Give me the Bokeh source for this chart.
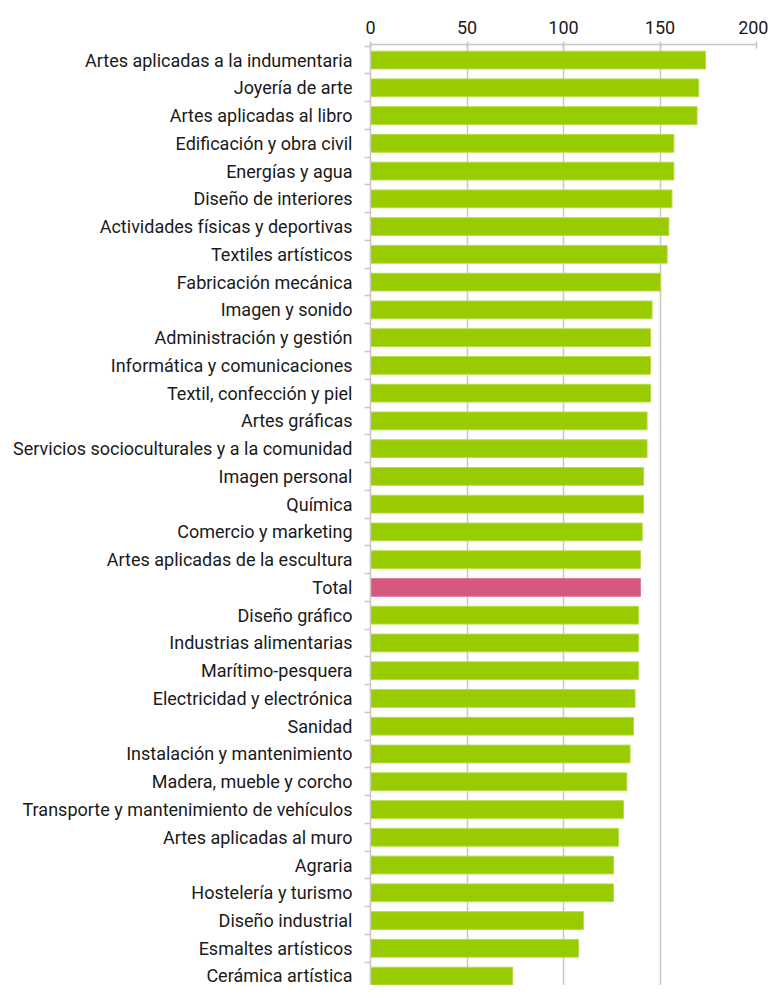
from bokeh.plotting import figure
from bokeh.models import ColumnDataSource, Range1d, FixedTicker
from bokeh.embed import file_html
from bokeh.resources import INLINE

categories = [
    "Artes aplicadas a la indumentaria",
    "Joyería de arte",
    "Artes aplicadas al libro",
    "Edificación y obra civil",
    "Energías y agua",
    "Diseño de interiores",
    "Actividades físicas y deportivas",
    "Textiles artísticos",
    "Fabricación mecánica",
    "Imagen y sonido",
    "Administración y gestión",
    "Informática y comunicaciones",
    "Textil, confección y piel",
    "Artes gráficas",
    "Servicios socioculturales y a la comunidad",
    "Imagen personal",
    "Química",
    "Comercio y marketing",
    "Artes aplicadas de la escultura",
    "Total",
    "Diseño gráfico",
    "Industrias alimentarias",
    "Marítimo-pesquera",
    "Electricidad y electrónica",
    "Sanidad",
    "Instalación y mantenimiento",
    "Madera, mueble y corcho",
    "Transporte y mantenimiento de vehículos",
    "Artes aplicadas al muro",
    "Agraria",
    "Hostelería y turismo",
    "Diseño industrial",
    "Esmaltes artísticos",
    "Cerámica artística",
]
values = [
    173.6, 170.1, 169.2, 157.2, 157.2, 156.2, 154.6, 153.7, 150.3,
    145.9, 145.1, 145.1, 145.1, 143.3, 143.3, 141.5, 141.5, 140.8,
    139.9, 139.9, 138.9, 138.9, 138.9, 137.1, 136.3, 134.5, 132.8,
    131.1, 128.5, 125.9, 125.9, 110.4, 107.8, 73.7,
]
x_ticks = [0, 50, 100, 150, 200]

GREEN = "#99cc00"
GREEN_EDGE = "#b5dc4a"
PINK = "#d5587e"
PINK_EDGE = "#dd7a98"
FONT = "Roboto"
GRID = "#c6c6c6"

n = len(categories)
ys = list(range(n))
colors = [PINK if c == "Total" else GREEN for c in categories]
edges = [PINK_EDGE if c == "Total" else GREEN_EDGE for c in categories]

src = ColumnDataSource(dict(y=ys, v=values, c=colors, e=edges, name=categories))

p = figure(
    width=768, height=985,
    output_backend="svg", toolbar_location=None,
    x_axis_location="above",
    x_range=Range1d(0, 200),
    y_range=Range1d(n - 1 + 0.34, -0.56),
    min_border_left=370, min_border_right=12,
    min_border_top=44, min_border_bottom=0,
)
p.outline_line_color = None
p.background_fill_color = "white"

p.hbar(y="y", left=0, right="v", height=0.64, source=src,
       fill_color="c", line_color="e", line_width=1)

# x axis (top)
xa = p.xaxis[0]
xa.ticker = FixedTicker(ticks=x_ticks)
xa.axis_line_color = GRID
xa.axis_line_width = 1.5
xa.major_tick_line_color = GRID
xa.major_tick_line_width = 1.5
xa.major_tick_in = 4
xa.major_tick_out = 3
xa.minor_tick_line_color = None
xa.major_label_text_font = FONT
xa.major_label_text_font_size = "18px"
xa.major_label_text_color = "#1a1a1a"
xa.major_label_standoff = 8

# y axis (left)
ya = p.yaxis[0]
ya.ticker = FixedTicker(ticks=ys, minor_ticks=[i - 0.5 for i in range(n + 1)])
ya.major_label_overrides = {i: c for i, c in enumerate(categories)}
ya.axis_line_color = GRID
ya.axis_line_width = 1.5
ya.major_tick_line_color = None
ya.minor_tick_line_color = GRID
ya.minor_tick_line_width = 1.5
ya.minor_tick_in = 0
ya.minor_tick_out = 6
ya.major_label_text_font = FONT
ya.major_label_text_font_size = "18px"
ya.major_label_text_color = "#1a1a1a"
ya.major_label_standoff = 12

p.xgrid.ticker = FixedTicker(ticks=x_ticks)
p.xgrid.grid_line_color = GRID
p.xgrid.grid_line_width = 1.5
p.ygrid.grid_line_color = None

open("out.html", "w").write(file_html(p, INLINE))
